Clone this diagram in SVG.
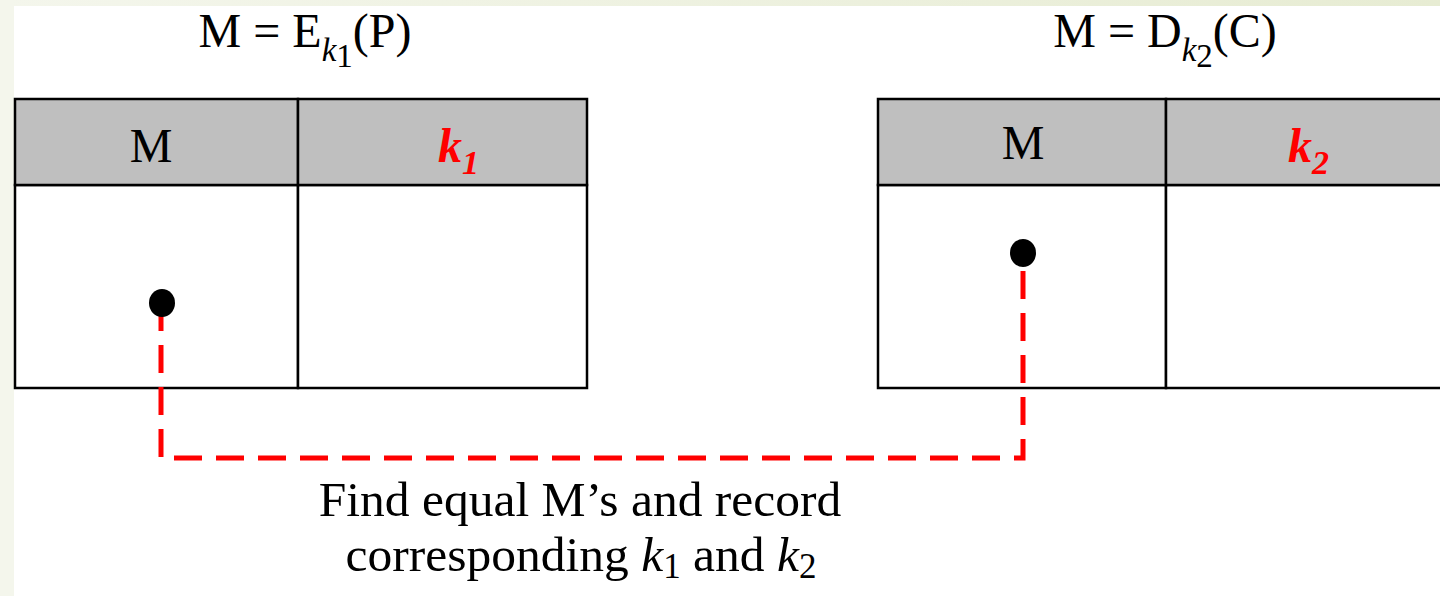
<svg xmlns="http://www.w3.org/2000/svg" width="1440" height="596" viewBox="0 0 1440 596">
<defs>
<linearGradient id="topg" x1="0" x2="1" y1="0" y2="0"><stop offset="0" stop-color="#f4f6ec"/><stop offset="1" stop-color="#e7ecd3"/></linearGradient>
</defs>
<style>
.t{font-family:"Liberation Serif","Times New Roman",serif;fill:#000}
.hdr{fill:#bfbfbf;stroke:#000;stroke-width:2.5}
.body{fill:#fff;stroke:#000;stroke-width:2.5}
.k{font-family:"Liberation Serif","Times New Roman",serif;font-weight:bold;font-style:italic;fill:#ff0000;font-size:48px}
.conn{fill:none;stroke:#ff0000;stroke-width:5;stroke-dasharray:28 14}
</style>
<rect x="0" y="0" width="1440" height="596" fill="#ffffff"/>
<rect x="0" y="0" width="1440" height="6" fill="url(#topg)"/>
<rect x="0" y="0" width="14" height="596" fill="#f4f6ec"/>

<g id="title-left">
<text class="t" x="305" y="47" font-size="48" text-anchor="middle">M = E<tspan font-style="italic" font-size="33" dy="14">k</tspan><tspan font-size="33" dy="6">1</tspan><tspan dy="-20">(P)</tspan></text>
</g>
<g id="title-right">
<text class="t" x="1165" y="47" font-size="48" text-anchor="middle">M = D<tspan font-style="italic" font-size="33" dy="14">k</tspan><tspan font-size="33" dy="6">2</tspan><tspan dy="-20">(C)</tspan></text>
</g>

<g id="table-left">
<rect class="body" x="15" y="185" width="283" height="203"/>
<rect class="body" x="298" y="185" width="289" height="203"/>
<rect class="hdr" x="15" y="99" width="283" height="86"/>
<rect class="hdr" x="298" y="99" width="289" height="86"/>
<text class="t" x="151" y="162" font-size="48" text-anchor="middle">M</text>
<text class="k" x="438" y="162">k<tspan font-size="34" dy="12">1</tspan></text>
</g>

<g id="table-right">
<rect class="body" x="878" y="185" width="288" height="203"/>
<rect class="body" x="1166" y="185" width="290" height="203"/>
<rect class="hdr" x="878" y="99" width="288" height="86"/>
<rect class="hdr" x="1166" y="99" width="290" height="86"/>
<text class="t" x="1023" y="159" font-size="48" text-anchor="middle">M</text>
<text class="k" x="1288" y="162">k<tspan font-size="34" dy="12">2</tspan></text>
</g>

<g id="connectors">
<path class="conn" d="M161 303 V458 H1023 V253"/>
</g>
<g id="dot-left"><ellipse cx="162" cy="303" rx="13" ry="14" fill="#000"/></g>
<g id="dot-right"><ellipse cx="1023" cy="253" rx="13" ry="14" fill="#000"/></g>

<g id="caption">
<text class="t" x="580" y="516" font-size="49.5" text-anchor="middle">Find equal M’s and record</text>
<text class="t" x="581" y="571" font-size="49.5" text-anchor="middle">corresponding <tspan font-style="italic">k</tspan><tspan font-size="35" dy="7">1</tspan><tspan dy="-7"> and </tspan><tspan font-style="italic">k</tspan><tspan font-size="35" dy="7">2</tspan></text>
</g>
</svg>
